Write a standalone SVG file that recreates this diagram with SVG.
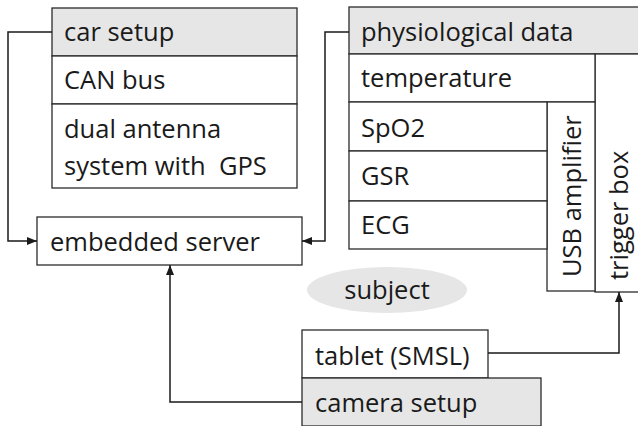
<svg xmlns="http://www.w3.org/2000/svg" width="638" height="426" viewBox="0 0 638 426">
<style>
.b{fill:#fff;stroke:#2b2b2b;stroke-width:1.3}
.h{fill:#e6e6e6;stroke:#2b2b2b;stroke-width:1.3}
.t{font-family:"Open Sans","Noto Sans",sans-serif;font-size:25.5px;fill:#1a1a1a}
.c{fill:none;stroke:#1a1a1a;stroke-width:1.5}
</style>
<defs>
<marker id="a" viewBox="0 0 10 10" refX="10" refY="5" markerWidth="10" markerHeight="10" markerUnits="userSpaceOnUse" orient="auto">
<path d="M0,1 L10,5 L0,9 Z" fill="#1a1a1a"/>
</marker>
</defs>
<g id="car-setup">
<rect class="h" x="52" y="8" width="245" height="48"/>
<text class="t" x="64" y="41">car setup</text>
</g>
<g id="can-bus">
<rect class="b" x="52" y="56" width="245" height="48"/>
<text class="t" x="64" y="89">CAN bus</text>
</g>
<g id="gps">
<rect class="b" x="52" y="104" width="245" height="84"/>
<text class="t" x="64" y="138">dual antenna</text>
<text class="t" x="64" y="175" style="white-space:pre">system with  GPS</text>
</g>
<g id="embedded-server">
<rect class="b" x="37" y="217" width="265" height="48"/>
<text class="t" x="50" y="251">embedded server</text>
</g>
<g id="physiological-data">
<rect class="h" x="349" y="7" width="295" height="47"/>
<text class="t" x="361" y="41">physiological data</text>
</g>
<g id="trigger-box">
<rect class="b" x="595" y="54" width="50" height="238"/>
<text class="t" transform="translate(628,280) rotate(-90)">trigger box</text>
</g>
<g id="temperature">
<rect class="b" x="349" y="54" width="246" height="48"/>
<text class="t" x="361" y="87">temperature</text>
</g>
<g id="usb-amplifier">
<rect class="b" x="547" y="102" width="48" height="189"/>
<text class="t" transform="translate(581,277) rotate(-90)">USB amplifier</text>
</g>
<g id="spo2">
<rect class="b" x="349" y="102" width="198" height="49"/>
<text class="t" x="361" y="137">SpO2</text>
</g>
<g id="gsr">
<rect class="b" x="349" y="151" width="198" height="50"/>
<text class="t" x="361" y="185">GSR</text>
</g>
<g id="ecg">
<rect class="b" x="349" y="201" width="198" height="48"/>
<text class="t" x="361" y="234">ECG</text>
</g>
<g id="subject">
<ellipse cx="387" cy="290" rx="80" ry="23" fill="#e6e6e6"/>
<text class="t" x="387" y="299" text-anchor="middle">subject</text>
</g>
<g id="tablet">
<rect class="b" x="302" y="330" width="186" height="48"/>
<text class="t" x="315" y="365">tablet (SMSL)</text>
</g>
<g id="camera-setup">
<rect class="h" x="302" y="378" width="239" height="48"/>
<text class="t" x="315" y="412">camera setup</text>
</g>
<g id="connectors">
<path class="c" d="M52,32 H8 V241 H37" marker-end="url(#a)"/>
<path class="c" d="M349,32 H325 V241 H302" marker-end="url(#a)"/>
<path class="c" d="M302,402 H170 V265" marker-end="url(#a)"/>
<path class="c" d="M488,353 H619 V292" marker-end="url(#a)"/>
</g>
</svg>
